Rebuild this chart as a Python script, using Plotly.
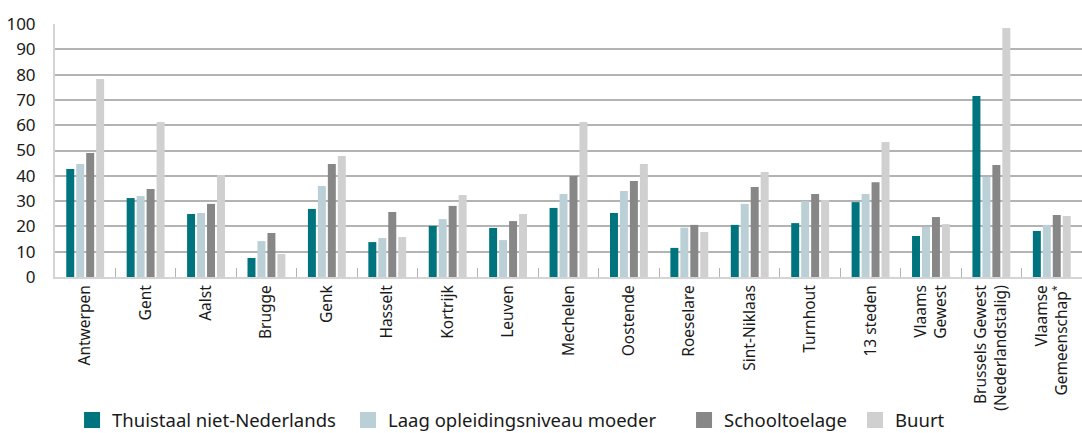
import plotly.graph_objects as go

categories = ["Antwerpen", "Gent", "Aalst", "Brugge", "Genk", "Hasselt", "Kortrijk",
              "Leuven", "Mechelen", "Oostende", "Roeselare", "Sint-Niklaas", "Turnhout",
              "13 steden", "Vlaams<br>Gewest", "Brussels Gewest<br>(Nederlandstalig)",
              "Vlaamse<br>Gemeenschap<sup>*</sup>"]

series_names = ["Thuistaal niet-Nederlands", "Laag opleidingsniveau moeder", "Schooltoelage", "Buurt"]

thuistaal = [42.7, 31.2, 24.9, 7.5, 26.9, 13.8, 20.2, 19.4, 27.3, 25.3, 11.5, 20.6, 21.3, 29.6, 16.2, 71.5, 18.2]
opleiding = [44.7, 32.0, 25.3, 14.2, 36.0, 15.4, 22.9, 14.6, 32.8, 34.0, 19.5, 28.9, 30.0, 32.8, 19.8, 39.5, 20.6]
schooltoelage = [49.0, 34.8, 28.9, 17.4, 44.7, 25.7, 28.1, 22.1, 39.9, 37.9, 20.6, 35.6, 32.8, 37.5, 23.7, 44.3, 24.5]
buurt = [78.3, 61.3, 40.3, 9.1, 47.8, 15.8, 32.4, 24.9, 61.3, 44.7, 17.8, 41.5, 30.4, 53.4, 20.9, 98.4, 24.1]

colors = ["#00747E", "#BBD0D6", "#878787", "#D0D0D0"]
values = [thuistaal, opleiding, schooltoelage, buurt]

FONT = "Noto Sans"
legend_ids = ["legend", "legend2", "legend3", "legend4"]
legend_x = [0.0166, 0.2853, 0.6125, 0.779]

fig = go.Figure()
for name, vals, col in zip(series_names, values, colors):
    fig.add_trace(go.Bar(x=categories, y=vals, name=name, marker_color=col,
                         marker_line_width=0, showlegend=False))
# legend proxies (larger square swatches), one legend each for exact spacing
for name, col, lid in zip(series_names, colors, legend_ids):
    fig.add_trace(go.Scatter(x=[None], y=[None], mode="markers", name=name,
                             marker=dict(symbol="square", size=16, color=col),
                             showlegend=True, legend=lid))

legend_common = dict(orientation="h", xanchor="left", yref="container", y=0.073, yanchor="top",
                     font=dict(size=18.5, family=FONT, color="#1a1a1a"),
                     itemwidth=30, bgcolor="rgba(0,0,0,0)")

fig.update_layout(
    width=1082, height=433,
    margin=dict(l=55, r=0, t=24, b=156),
    plot_bgcolor="white", paper_bgcolor="white",
    barmode="group", bargap=0.34, bargroupgap=0.2,
    font=dict(family=FONT, color="#1a1a1a"),
    xaxis=dict(type="category", tickangle=-90, tickson="boundaries", automargin=False,
               ticks="inside", ticklen=9, tickcolor="#b3b3b3", tickwidth=1,
               showline=True, linecolor="#d4d4d4", linewidth=2,
               showgrid=False, tickfont=dict(size=15.5, family=FONT, color="#1a1a1a")),
    yaxis=dict(range=[0, 100], dtick=10, showgrid=True, gridcolor="#b3b3b3", gridwidth=1.5,
               showline=True, linecolor="#d4d4d4", linewidth=2, zeroline=False,
               ticks="", ticklabelstandoff=14, automargin=False,
               tickfont=dict(size=17, family=FONT, color="#1a1a1a")),
)
for lid, lx in zip(legend_ids, legend_x):
    fig.update_layout({lid: dict(legend_common, x=lx)})

fig.write_html("out.html", config={"displayModeBar": False},
               post_script="document.body.style.margin='0';document.body.style.overflow='hidden';")
